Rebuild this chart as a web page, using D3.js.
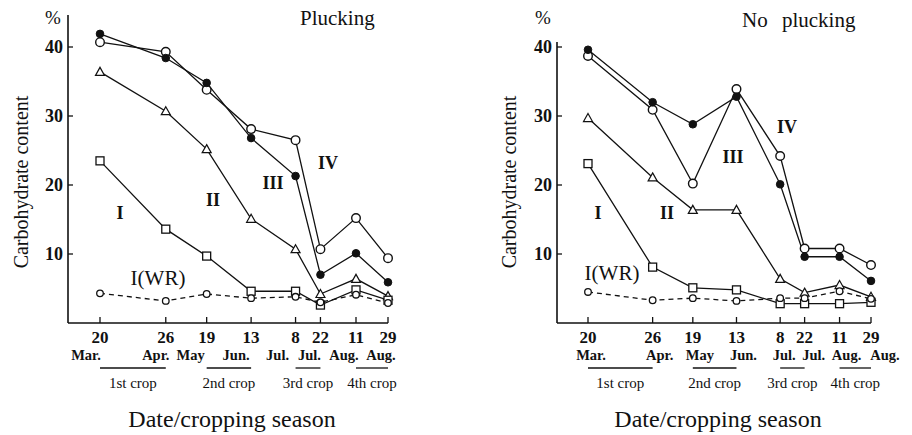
<!DOCTYPE html>
<html><head><meta charset="utf-8">
<script src="https://cdn.jsdelivr.net/npm/d3@7"></script>
<style>
html,body{margin:0;padding:0;background:#fff;}
svg{display:block;}
text{font-family:"Liberation Serif","DejaVu Serif",serif;fill:#111;}
</style></head><body>
<svg id="c" width="912" height="435"></svg>
<script>
// ---- data ----
const dates = ["1979-03-20","1979-04-26","1979-05-19","1979-06-13","1979-07-08","1979-07-22","1979-08-11","1979-08-29"];
const dayLabels = ["20","26","19","13","8","22","11","29"];
const monthLabels = ["Mar.","Apr.","May","Jun.","Jul.","Jul.","Aug.","Aug."];
const cropLabels = ["1st crop","2nd crop","3rd crop","4th crop"];
const cropStart = ["1979-03-20","1979-05-19","1979-07-08","1979-08-11"];
const cropEnd   = ["1979-04-26","1979-06-13","1979-07-22","1979-08-29"];
const yTicks = [10,20,30,40];
const seriesNames = ["IV","III","II","I","I(WR)"];
const seriesMarkers = ["circle","dot","triangle","square","smallcircle"];

const pluckIV  = [40.7, 39.3, 33.8, 28.1, 26.5, 10.7, 15.2, 9.4];
const pluckIII = [41.9, 38.4, 34.8, 26.8, 21.3, 7.0, 10.1, 5.9];
const pluckII  = [36.4, 30.7, 25.2, 15.1, 10.7, 4.2, 6.4, 3.9];
const pluckI   = [23.5, 13.6, 9.7, 4.6, 4.6, 2.6, 4.8, 3.3];
const pluckWR  = [4.3, 3.2, 4.2, 3.6, 3.8, 3.0, 4.1, 2.9];

const noIV  = [38.7, 30.9, 20.2, 33.9, 24.2, 10.8, 10.8, 8.4];
const noIII = [39.6, 32.0, 28.8, 32.8, 20.1, 9.6, 9.6, 6.1];
const noII  = [29.7, 21.1, 16.4, 16.4, 6.4, 4.4, 5.5, 3.8];
const noI   = [23.1, 8.1, 5.1, 4.8, 2.8, 2.8, 2.8, 3.0];
const noWR  = [4.5, 3.3, 3.6, 3.2, 3.6, 3.6, 4.6, 3.5];

// ---- layout ----
const parse = d3.timeParse("%Y-%m-%d");
const panels = [
  {title:"Plucking", series:[pluckIV,pluckIII,pluckII,pluckI,pluckWR],
   axisX:68, x0:100, x1:388, axisTop:15, titleX:300, titleY:25, pctX:53, pctY:24, ylabX:28,
   monthDx:[-14,-10,-16,-15,-18,-11,-12,-7],
   labelPos:[[328,163],[273,183],[213,200],[120,213],[158,278]]},
  {title:"No plucking", series:[noIV,noIII,noII,noI,noWR],
   axisX:557, x0:588, x1:871, axisTop:42, titleX:742, titleY:27, pctX:543, pctY:24, ylabX:516,
   monthDx:[3,7,7,7,4,9,7,14],
   labelPos:[[787,127],[733,157],[667,213],[598,213],[612,273]]}
];

const svg = d3.select("#c");
const y = d3.scaleLinear().domain([0,40]).range([323,47]);

panels.forEach(p => {
  const g = svg.append("g");
  const x = d3.scaleTime().domain([parse(dates[0]), parse(dates[dates.length-1])]).range([p.x0,p.x1]);
  const base = y(0);

  // axes lines
  g.append("line").attr("x1",p.axisX).attr("x2",p.axisX).attr("y1",p.axisTop).attr("y2",base)
    .attr("stroke","#111").attr("stroke-width",1.6);
  g.append("line").attr("x1",p.axisX).attr("x2",p.x1).attr("y1",base).attr("y2",base)
    .attr("stroke","#111").attr("stroke-width",1.6);

  // y ticks
  yTicks.forEach(t => {
    g.append("line").attr("x1",p.axisX).attr("x2",p.axisX+5).attr("y1",y(t)).attr("y2",y(t))
      .attr("stroke","#111").attr("stroke-width",1.3);
    g.append("text").attr("x",p.axisX-5).attr("y",y(t)).attr("dy","0.35em")
      .attr("text-anchor","end").attr("font-size",18).attr("font-weight","bold").text(t);
  });
  g.append("text").attr("x",p.pctX).attr("y",p.pctY).attr("text-anchor","middle")
    .attr("font-size",19).text("%");

  // x ticks and labels
  dates.forEach((d,i) => {
    const xx = x(parse(d));
    g.append("line").attr("x1",xx).attr("x2",xx).attr("y1",base).attr("y2",base-6)
      .attr("stroke","#111").attr("stroke-width",1.3);
    g.append("text").attr("x",xx).attr("y",base+20).attr("text-anchor","middle")
      .attr("font-size",17).attr("font-weight","bold").text(dayLabels[i]);
    g.append("text").attr("x",xx+p.monthDx[i]).attr("y",base+37).attr("text-anchor","middle")
      .attr("font-size",14.5).attr("font-weight","600").text(monthLabels[i]);
  });

  // crop bars
  cropLabels.forEach((c,i) => {
    const a = x(parse(cropStart[i])), b = x(parse(cropEnd[i]));
    g.append("line").attr("x1",a).attr("x2",b).attr("y1",base+45).attr("y2",base+45)
      .attr("stroke","#111").attr("stroke-width",1.3);
    g.append("text").attr("x",(a+b)/2).attr("y",base+65).attr("text-anchor","middle")
      .attr("font-size",15).text(c);
  });

  // axis titles
  g.append("text").attr("x",(p.axisX+p.x1)/2+4).attr("y",base+104).attr("text-anchor","middle")
    .attr("font-size",24).text("Date/cropping season");
  g.append("text").attr("transform",`translate(${p.ylabX},182) rotate(-90)`)
    .attr("text-anchor","middle").attr("font-size",20).text("Carbohydrate content");
  g.append("text").attr("x",p.titleX).attr("y",p.titleY).attr("font-size",21)
    .attr("word-spacing", p.title==="No plucking" ? "9px" : "0px").text(p.title);

  // lines
  const line = d3.line().x((v,i)=>x(parse(dates[i]))).y(v=>y(v));
  p.series.forEach((vals,si) => {
    g.append("path").attr("d",line(vals)).attr("fill","none").attr("stroke","#111")
      .attr("stroke-width",1.3).attr("stroke-dasharray", si===4 ? "5,4" : null);
  });
  // markers
  p.series.forEach((vals,si) => {
    const m = seriesMarkers[si];
    vals.forEach((v,i) => {
      const cx = x(parse(dates[i])), cy = y(v);
      if (m==="circle") g.append("circle").attr("cx",cx).attr("cy",cy).attr("r",4.3)
        .attr("fill","#fff").attr("stroke","#111").attr("stroke-width",1.4);
      else if (m==="dot") g.append("circle").attr("cx",cx).attr("cy",cy).attr("r",3.8)
        .attr("fill","#111").attr("stroke","#111").attr("stroke-width",1);
      else if (m==="smallcircle") g.append("circle").attr("cx",cx).attr("cy",cy).attr("r",3.3)
        .attr("fill","#fff").attr("stroke","#111").attr("stroke-width",1.3);
      else if (m==="square") g.append("rect").attr("x",cx-4).attr("y",cy-4).attr("width",8).attr("height",8)
        .attr("fill","#fff").attr("stroke","#111").attr("stroke-width",1.3);
      else if (m==="triangle") g.append("path")
        .attr("d",`M${cx},${cy-4.5}L${cx+4.5},${cy+3.5}L${cx-4.5},${cy+3.5}Z`)
        .attr("fill","#fff").attr("stroke","#111").attr("stroke-width",1.2);
    });
  });

  // series labels
  seriesNames.forEach((n,si) => {
    const [lx,ly] = p.labelPos[si];
    g.append("text").attr("x",lx).attr("y",ly).attr("dy","0.35em").attr("text-anchor","middle")
      .attr("font-size", si===4 ? 21 : 18).attr("font-weight", si===4 ? "normal" : "bold").text(n);
  });
});
</script>
</body></html>
